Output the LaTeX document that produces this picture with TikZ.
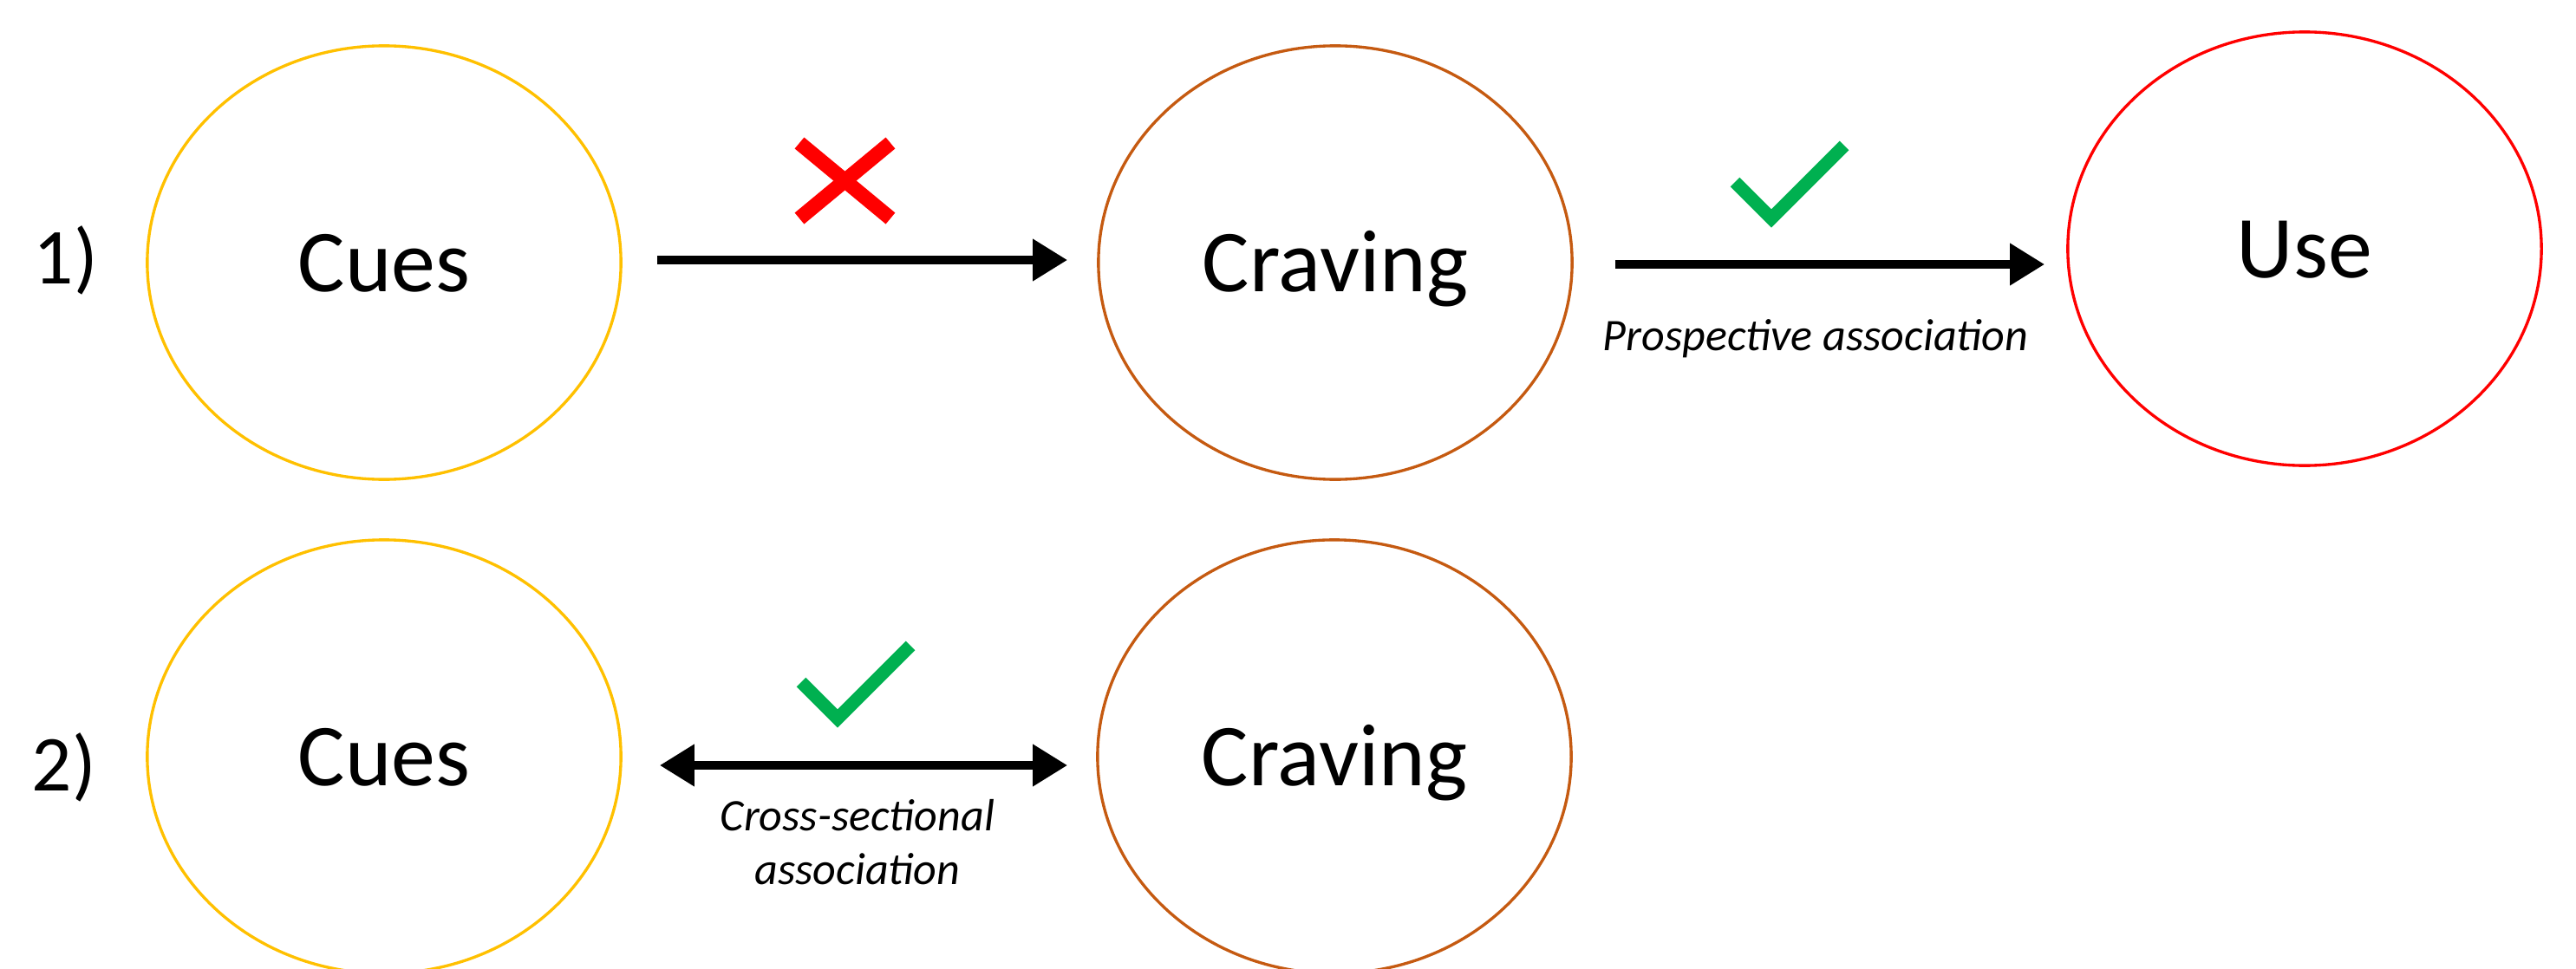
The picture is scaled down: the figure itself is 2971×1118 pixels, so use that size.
\documentclass[tikz,border=0pt]{standalone}
\usepackage{fontspec}
\setmainfont{Carlito}
\usetikzlibrary{shapes.geometric,arrows.meta}
\definecolor{cuecol}{HTML}{FFC000}
\definecolor{cravecol}{HTML}{C55A11}
\definecolor{usecol}{HTML}{FF0000}
\definecolor{okgreen}{HTML}{00B050}
\definecolor{nored}{HTML}{FF0000}
\begin{document}
\begin{tikzpicture}[x=0.01cm,y=-0.01cm,
  bubble/.style={draw, ellipse, minimum width=5.46cm, minimum height=5cm,
    inner sep=0pt, line width=0.95pt, font=\fontsize{29}{35}\selectfont,
    text height=0.66cm, text depth=0pt},
  cuebub/.style={bubble, draw=cuecol},
  cravebub/.style={bubble, draw=cravecol},
  usebub/.style={bubble, draw=usecol},
  rowlab/.style={font=\fontsize{26}{31}\selectfont, anchor=base, inner sep=0pt},
  link/.style={line width=2.85pt, -{Triangle[length=0.4cm,width=0.46cm]}},
  biLink/.style={line width=2.85pt, {Triangle[length=0.4cm,width=0.46cm]}-{Triangle[length=0.4cm,width=0.46cm]}},
  note/.style={font=\fontsize{14.8}{17.8}\selectfont\itshape, anchor=base, inner sep=0pt},
  xmark/.style={draw=nored, line width=4.8pt},
  tick/.style={draw=okgreen, line width=4.3pt, line join=miter}
]
\useasboundingbox (0,0) rectangle (2971,1118);

% row 1
\node[rowlab] (r1) at (76,327) {1)};
\node[cuebub] (c1) at (443,303) {Cues};
\node[cravebub] (cr1) at (1540,303) {Craving};
\node[usebub] (u) at (2658,287) {Use};

\draw[link, shorten <=0.4cm, shorten >=0.34cm] ([yshift=0.03cm]c1.east) -- ([yshift=0.03cm]cr1.west);
\draw[xmark] (922,165) -- (1027,252);
\draw[xmark] (922,252) -- (1027,165);

\draw[link, shorten <=0.48cm, shorten >=0.25cm] ([yshift=-0.02cm]cr1.east) -- ([yshift=-0.02cm]cr1.east -| u.west);
\draw[tick] (2001,210) -- (2043,252) -- (2127,168);
\node[note] (pa) at (2094,404) {Prospective association};

% row 2
\node[rowlab] (r2) at (74,912) {2)};
\node[cuebub] (c2) at (443,873) {Cues};
\node[cravebub] (cr2) at (1539,873) {Craving};

\draw[biLink, shorten <=0.43cm, shorten >=0.33cm] ([yshift=-0.1cm]c2.east) -- ([yshift=-0.1cm]cr2.west);
\draw[tick] (924,787) -- (966,829) -- (1050,745);
\node[note] (cs1) at (989,958) {Cross-sectional};
\node[note] (cs2) at (989,1020) {association};
\end{tikzpicture}
\end{document}
